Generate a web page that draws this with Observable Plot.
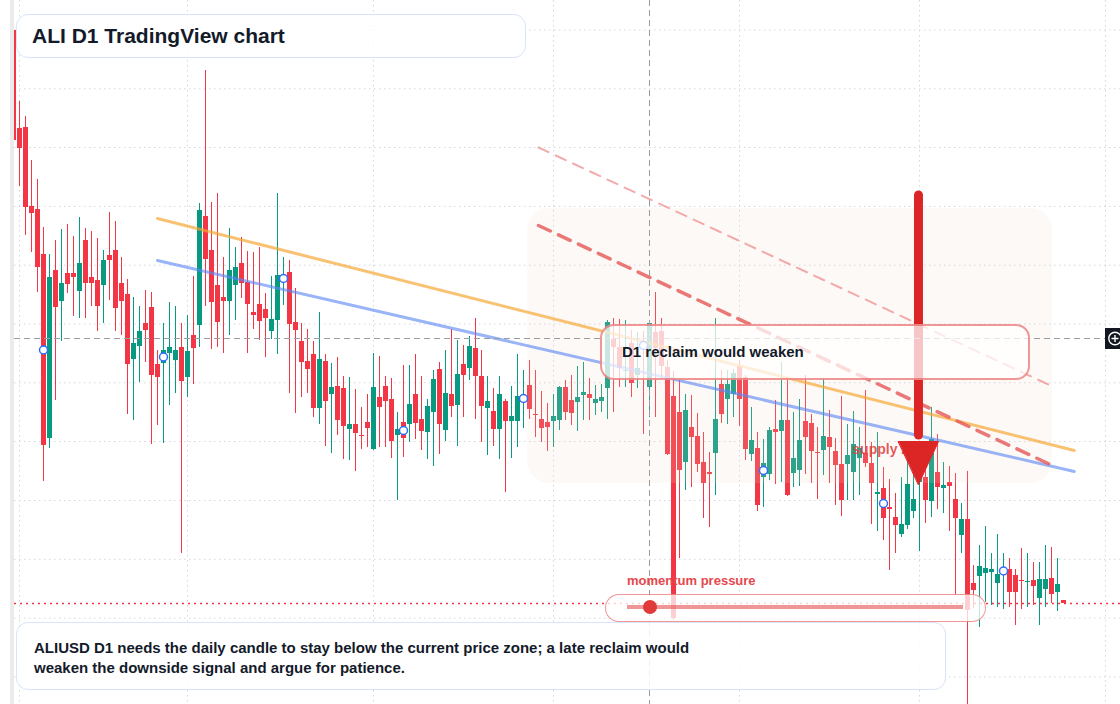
<!DOCTYPE html>
<html><head><meta charset="utf-8">
<script src="https://cdn.jsdelivr.net/npm/d3@7"></script>
<script src="https://cdn.jsdelivr.net/npm/@observablehq/plot@0.6"></script>
<style>
html,body{margin:0;padding:0;background:#fff;}
#wrap{position:relative;width:1120px;height:704px;overflow:hidden;font-family:"Liberation Sans",Arial,sans-serif;}
#wrap svg{position:absolute;left:0;top:0;}
.ov{position:absolute;box-sizing:border-box;}
#band{left:10px;top:0;width:4px;height:704px;background:#ebebeb;}
#title{left:16px;top:14px;width:510px;height:44px;border:1.5px solid #d8e4fa;border-radius:12px;background:rgba(255,255,255,0.82);
  font-weight:700;font-size:21px;color:#131a2a;padding-left:15px;line-height:41px;}
#reclaim{left:600px;top:324px;width:430px;height:56px;border:2px solid rgba(230,80,80,0.6);border-radius:14px;background:rgba(255,255,255,0.74);
  font-weight:700;font-size:15px;color:#131a2a;padding-left:20px;line-height:52px;}
#mlabel{left:627px;top:573px;font-weight:700;font-size:13px;color:#e5484d;white-space:nowrap;}
#mbox{left:605px;top:594px;width:381px;height:28px;border:1.5px solid rgba(230,80,80,0.6);border-radius:14px;background:rgba(255,255,255,0.76);}
#mline{left:627px;top:605px;width:336px;height:4px;background:rgba(229,80,80,0.6);}
#mdot{left:643px;top:600px;width:14px;height:14px;border-radius:7px;background:#e03a3a;}
#caption{left:16px;top:622px;width:930px;height:68px;border:1.5px solid #d8e4fa;border-radius:12px;background:rgba(255,255,255,0.86);
  font-weight:700;font-size:15px;color:#131a2a;padding:15px 0 0 17px;line-height:19.5px;}
#xlabel{left:1105px;top:328px;width:20px;height:21px;background:#131722;}
</style></head><body><div id="wrap"></div>
<script>
// ---- data: ALIUSD daily candles (USD), starting 2025-01-31 ----
const startDay = "2025-01-31";
const open = [.00690,.00592,.00593,.00514,.00511,.00466,.00282,.00450,.00419,.00447,
.00447,.00429,.00480,.00443,.00440,.00435,.00465,.00470,.00437,.00426,
.00361,.00374,.00397,.00413,.00356,.00357,.00367,.00360,.00373,.00343,
.00385,.00395,.00504,.00470,.00435,.00423,.00419,.00435,.00457,.00438,
.00408,.00416,.00411,.00389,.00400,.00439,.00448,.00398,.00379,.00359,
.00366,.00312,.00359,.00326,.00334,.00332,.00291,.00296,.00285,.00298,
.00271,.00323,.00334,.00321,.00285,.00298,.00296,.00326,.00301,.00288,
.00308,.00351,.00290,.00326,.00315,.00356,.00352,.00372,.00344,.00312,
.00309,.00291,.00319,.00299,.00299,.00320,.00335,.00306,.00301,.00298,
.00299,.00300,.00333,.00320,.00318,.00325,.00326,.00317,.00319,.00332,
.00381,.00373,.00349,.00377,.00345,.00377,.00333,.00388,.00389,.00353,
.00324,.00308,.00258,.00293,.00284,.00258,.00248,.00267,.00336,.00321,
.00326,.00354,.00343,.00266,.00272,.00243,.00246,.00291,.00289,.00300,
.00247,.00250,.00299,.00297,.00268,.00270,.00283,.00269,.00256,.00256,
.00248,.00262,.00267,.00257,.00226,.00232,.00213,.00203,.00186,.00195,
.00209,.00238,.00243,.00219,.00248,.00232,.00238,.00221,.00185,.00201,
.00137,.00144,.00147,.00148,.00137,.00148,.00151,.00145,.00140,.00138,
.00140,.00122,.00131,.00142,.00128,.00120];
const high = [.00692,.00619,.00604,.00560,.00541,.00493,.00466,.00480,.00491,.00496,
.00484,.00503,.00492,.00489,.00482,.00470,.00508,.00499,.00463,.00441,
.00423,.00414,.00430,.00428,.00370,.00397,.00418,.00414,.00397,.00405,
.00444,.00517,.00650,.00518,.00527,.00463,.00492,.00473,.00483,.00469,
.00468,.00473,.00427,.00444,.00527,.00463,.00460,.00432,.00397,.00391,
.00379,.00408,.00366,.00357,.00363,.00344,.00343,.00331,.00313,.00326,
.00367,.00364,.00344,.00342,.00308,.00355,.00355,.00366,.00344,.00321,
.00350,.00358,.00370,.00391,.00380,.00375,.00384,.00402,.00370,.00344,
.00332,.00344,.00321,.00334,.00366,.00350,.00360,.00350,.00329,.00317,
.00326,.00334,.00340,.00345,.00354,.00358,.00342,.00335,.00336,.00400,
.00402,.00401,.00400,.00390,.00388,.00389,.00398,.00428,.00402,.00360,
.00349,.00340,.00326,.00325,.00307,.00288,.00268,.00402,.00350,.00350,
.00351,.00360,.00345,.00313,.00288,.00281,.00293,.00320,.00358,.00343,
.00308,.00321,.00345,.00306,.00293,.00342,.00310,.00282,.00324,.00296,
.00309,.00293,.00330,.00278,.00288,.00253,.00241,.00227,.00243,.00263,
.00265,.00265,.00277,.00313,.00286,.00258,.00254,.00247,.00217,.00249,
.00155,.00175,.00194,.00167,.00186,.00167,.00162,.00151,.00172,.00167,
.00158,.00158,.00175,.00173,.00162,.00120];
const low = [.00578,.00534,.00485,.00468,.00428,.00239,.00272,.00320,.00379,.00427,
.00404,.00402,.00402,.00414,.00389,.00397,.00420,.00389,.00385,.00306,
.00300,.00338,.00358,.00276,.00295,.00277,.00315,.00327,.00167,.00323,
.00336,.00373,.00414,.00371,.00373,.00367,.00385,.00400,.00422,.00367,
.00391,.00380,.00363,.00381,.00366,.00415,.00327,.00307,.00323,.00327,
.00303,.00296,.00274,.00267,.00285,.00261,.00260,.00249,.00271,.00273,
.00270,.00273,.00273,.00262,.00220,.00263,.00278,.00281,.00270,.00261,
.00254,.00266,.00279,.00303,.00274,.00303,.00340,.00301,.00278,.00265,
.00274,.00261,.00228,.00262,.00273,.00292,.00301,.00283,.00278,.00269,
.00273,.00290,.00300,.00295,.00289,.00300,.00300,.00305,.00308,.00301,
.00308,.00333,.00333,.00323,.00332,.00286,.00303,.00303,.00341,.00265,
.00100,.00162,.00230,.00233,.00248,.00202,.00193,.00225,.00297,.00296,
.00303,.00294,.00260,.00259,.00209,.00213,.00240,.00236,.00238,.00224,
.00233,.00234,.00246,.00237,.00221,.00245,.00237,.00215,.00204,.00220,
.00220,.00225,.00253,.00196,.00189,.00180,.00150,.00167,.00183,.00191,
.00202,.00169,.00197,.00203,.00211,.00207,.00189,.00125,.00167,.00016,
.00112,.00093,.00118,.00115,.00113,.00111,.00113,.00095,.00111,.00113,
.00115,.00095,.00113,.00117,.00109,.00117];
const close = [.00580,.00572,.00513,.00507,.00453,.00275,.00443,.00413,.00437,.00436,
.00443,.00457,.00437,.00437,.00414,.00460,.00460,.00412,.00419,.00356,
.00377,.00389,.00390,.00345,.00343,.00370,.00373,.00370,.00339,.00369,
.00372,.00510,.00461,.00418,.00398,.00419,.00450,.00453,.00437,.00416,
.00405,.00399,.00402,.00401,.00445,.00445,.00396,.00390,.00358,.00351,
.00312,.00361,.00319,.00333,.00300,.00294,.00296,.00287,.00284,.00292,
.00333,.00313,.00319,.00279,.00291,.00282,.00316,.00297,.00289,.00314,
.00341,.00296,.00327,.00314,.00346,.00345,.00374,.00344,.00314,.00319,
.00291,.00326,.00299,.00304,.00324,.00324,.00311,.00305,.00292,.00293,
.00304,.00333,.00308,.00307,.00323,.00328,.00322,.00321,.00323,.00398,
.00373,.00352,.00350,.00337,.00352,.00373,.00397,.00372,.00354,.00266,
.00102,.00250,.00310,.00283,.00256,.00237,.00246,.00301,.00306,.00336,
.00347,.00321,.00271,.00280,.00215,.00257,.00290,.00288,.00300,.00225,
.00262,.00280,.00283,.00269,.00267,.00284,.00273,.00255,.00220,.00265,
.00276,.00272,.00257,.00237,.00228,.00202,.00211,.00195,.00196,.00236,
.00221,.00250,.00220,.00281,.00233,.00235,.00234,.00202,.00201,.00110,
.00130,.00154,.00152,.00151,.00146,.00151,.00128,.00128,.00139,.00139,
.00134,.00141,.00141,.00126,.00136,.00117];

// gridlines (unlabelled) and annotation values
const gridPrices = [.006905,.006317,.00573,.005141,.004553,.003965,.003377,.00279,.0022,.001612,.001024,.000436];
const gridMonths = ["2025-02-01","2025-03-01","2025-04-01","2025-05-01","2025-06-01","2025-07-01","2025-08-01"];
const markerEvery = 20, markerFirst = 5;               // blue session markers
const orangeTrend = [{day:24, price:.00502},{day:176.8, price:.00270}];
const blueTrend   = [{day:24, price:.00460},{day:176.8, price:.00249}];
const redChannel  = [{day:87.5, price:.00495},{day:173.5, price:.00254}];
const redUpper    = [{day:87.5, price:.00573},{day:173.2, price:.00334}];
const supplyZone  = {day1:85.7, day2:173.2, top:.00512, bottom:.00237};
const arrowShaft  = {day:150.83, top:.00525, bottom:.00285};
const arrowHead   = [{day:147.5, price:.00279},{day:154.17, price:.00279},{day:150.83, price:.00236}];
const supplyLabel = {day:139.8, price:.00271, text:"supply zone"};
const crosshair   = {day:106, price:.00382};

// ---- build ----
const t0 = new Date(Date.UTC(2025,0,31));
const dayToDate = n => new Date(+t0 + n*864e5);
const dates = d3.utcDay.range(t0, d3.utcDay.offset(t0, open.length));
const candles = dates.map((d,i) => ({date:d, open:open[i], high:high[i], low:low[i], close:close[i], up: close[i] >= open[i]}));
const markers = candles.filter((c,i) => i >= markerFirst && (i - markerFirst) % markerEvery === 0)
  .map(c => ({date:c.date, price:(c.open + c.close)/2}));
const lastClose = close[close.length-1];
const pts = a => a.map(p => ({date: dayToDate(p.day), price: p.price}));
const GREEN = "#089981", RED = "#f23645";
const col = d => d.up ? GREEN : RED;

const chart = Plot.plot({
  width: 1120, height: 704,
  marginLeft: 14, marginRight: 0, marginTop: 0, marginBottom: 0,
  style: {background: "transparent", overflow: "visible"},
  x: {type: "utc", domain: [dayToDate(1/6), dayToDate(184.5)], axis: null},
  y: {domain: [0.00016, 0.0072], axis: null},
  marks: [
    Plot.ruleY(gridPrices, {stroke: "#d3d7de", strokeDasharray: "1.5,3.5"}),
    Plot.ruleX(gridMonths.map(s => new Date(s)), {stroke: "#d3d7de", strokeDasharray: "1.5,3.5"}),
    Plot.ruleX(candles, {x: "date", y1: "low", y2: "high", stroke: col, clip: "frame"}),
    Plot.ruleX(candles, {x: "date", y1: "open", y2: "close", stroke: col, strokeWidth: 5, clip: "frame"}),
    Plot.rect([supplyZone], {x1: d => dayToDate(d.day1), x2: d => dayToDate(d.day2), y1: "top", y2: "bottom",
      fill: "#f2dcc6", fillOpacity: 0.16, rx: 22}),
    Plot.line(pts(orangeTrend), {x: "date", y: "price", stroke: "#f6a530", strokeOpacity: 0.68, strokeWidth: 3}),
    Plot.line(pts(blueTrend), {x: "date", y: "price", stroke: "#5a86f2", strokeOpacity: 0.62, strokeWidth: 3}),
    Plot.line(pts(redUpper), {x: "date", y: "price", stroke: "#ee8f8f", strokeOpacity: 0.75, strokeWidth: 2, strokeDasharray: "11,8"}),
    Plot.line(pts(redChannel), {x: "date", y: "price", stroke: "#e45858", strokeOpacity: 0.8, strokeWidth: 3.5, strokeDasharray: "13,9"}),
    Plot.dot(markers, {x: "date", y: "price", r: 4, stroke: "#2f6bff", strokeWidth: 1.5, fill: "white"}),
    Plot.text([supplyLabel], {x: d => dayToDate(d.day), y: "price", text: "text", textAnchor: "start",
      fill: "#e23b3b", fillOpacity: 0.85, fontSize: 14, fontWeight: 600, fontFamily: "Liberation Sans, Arial, sans-serif"}),
    Plot.ruleX([arrowShaft], {x: d => dayToDate(d.day), y1: "top", y2: "bottom", stroke: "#dc2626", strokeWidth: 9, strokeLinecap: "round"}),
    Plot.line(pts(arrowHead), {x: "date", y: "price", fill: "#dc2626", stroke: "#dc2626", strokeWidth: 1, curve: "linear-closed"}),
    Plot.ruleY([lastClose], {stroke: RED, strokeWidth: 1.5, strokeDasharray: "2,4"}),
    Plot.ruleX([crosshair], {x: d => dayToDate(d.day), stroke: "#9a9ca3", strokeDasharray: "6,4"}),
    Plot.ruleY([crosshair], {y: "price", stroke: "#9a9ca3", strokeDasharray: "6,4"})
  ]
});

const wrap = document.getElementById("wrap");
wrap.appendChild(chart);
const add = (id, html) => { const d = document.createElement("div"); d.className = "ov"; d.id = id; if (html) d.innerHTML = html; wrap.appendChild(d); return d; };
add("band");
add("title", "ALI D1 TradingView chart");
add("reclaim", "D1 reclaim would weaken");
add("mlabel", "momentum pressure");
add("mbox"); add("mline"); add("mdot");
add("caption", "ALIUSD D1 needs the daily candle to stay below the current price zone; a late reclaim would<br>weaken the downside signal and argue for patience.");
add("xlabel", '<svg width="20" height="21"><circle cx="10" cy="10.5" r="6.2" fill="none" stroke="#fff" stroke-width="1.4"/><path d="M10 7v7M6.5 10.5h7" stroke="#fff" stroke-width="1.4"/></svg>');
</script></body></html>
